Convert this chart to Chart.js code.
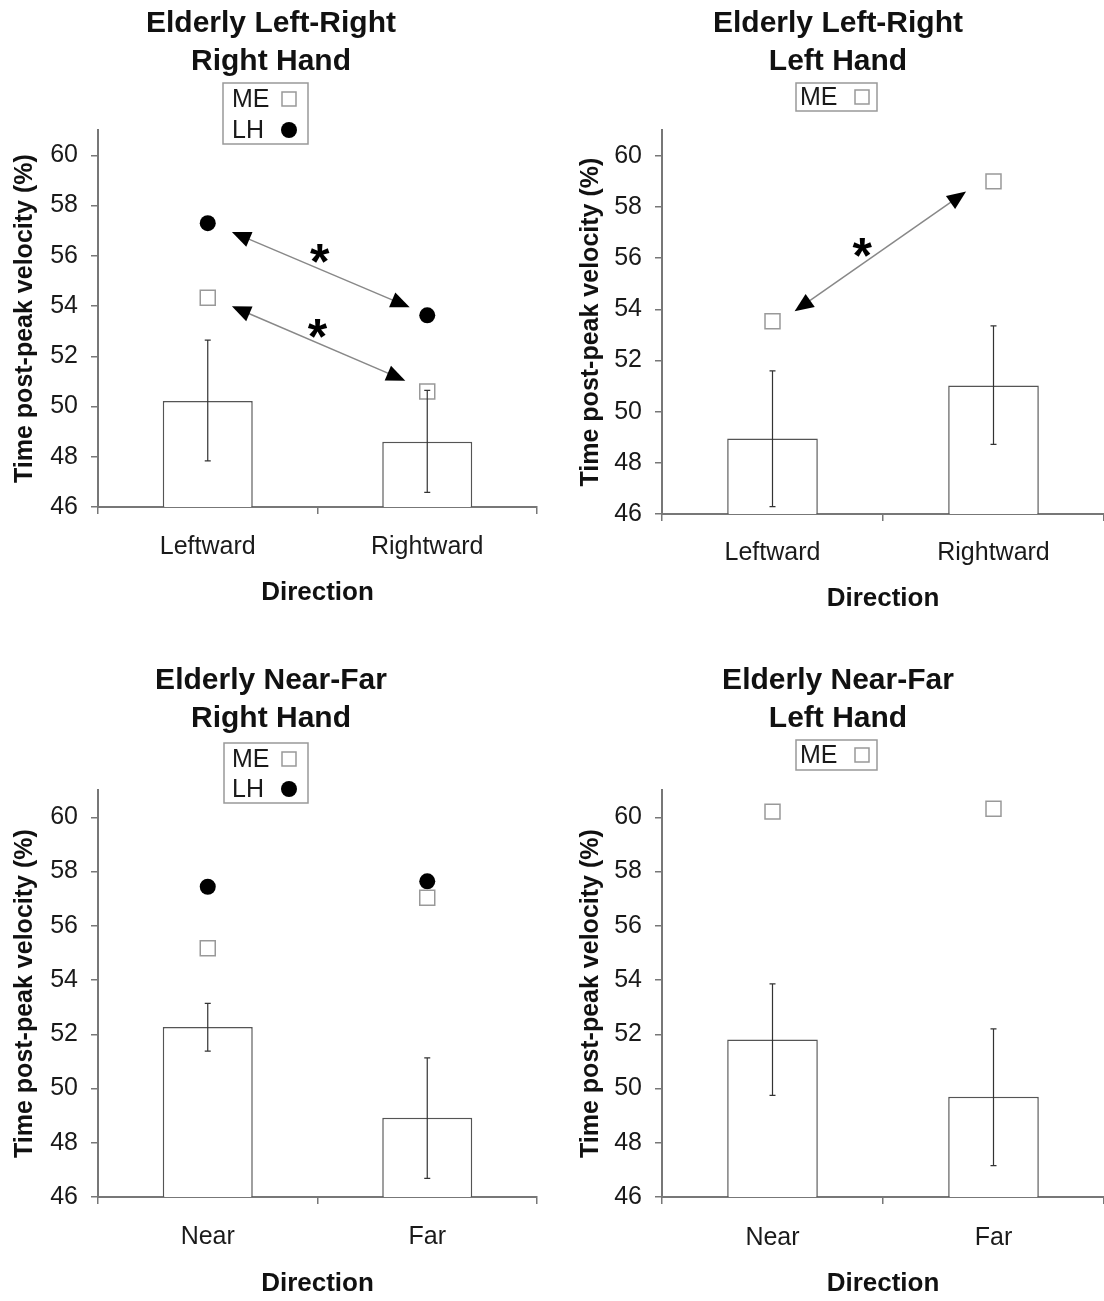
<!DOCTYPE html>
<html>
<head>
<meta charset="utf-8">
<script src="https://cdn.jsdelivr.net/npm/chart.js@4.4.1/dist/chart.umd.min.js"></script>
<style>
  html, body { margin: 0; padding: 0; background: #fff; }
  body { width: 1104px; height: 1301px; position: relative; overflow: hidden; }
  canvas { position: absolute; }
</style>
</head>
<body>
<canvas id="c1" width="552" height="608" style="left:0;top:0"></canvas>
<canvas id="c2" width="552" height="614" style="left:552px;top:0"></canvas>
<canvas id="c3" width="552" height="642" style="left:0;top:657px"></canvas>
<canvas id="c4" width="552" height="642" style="left:552px;top:657px"></canvas>
<script>
// data
const lrCategories = ['Leftward', 'Rightward'];
const nfCategories = ['Near', 'Far'];
const yTickValues = [46, 48, 50, 52, 54, 56, 58, 60];

// Elderly Left-Right, right hand
const lrRightMean = [50.22, 48.6];
const lrRightErrLow = [47.84, 46.58];
const lrRightErrHigh = [52.64, 50.64];
const lrRightME = [54.33, 50.6];
const lrRightLH = [57.3, 53.63];
// arrows: [x0, y0, x1, y1] in category index / data units
const lrRightArrows = [[0.11, 56.95, 0.92, 53.95], [0.11, 53.99, 0.9, 51.03]];
const lrRightStars = [[0.51, 56.15], [0.5, 53.15]];

// Elderly Left-Right, left hand
const lrLeftMean = [48.95, 51.02];
const lrLeftErrLow = [46.29, 48.72];
const lrLeftErrHigh = [51.59, 53.35];
const lrLeftME = [53.53, 59.0];
const lrLeftArrows = [[0.1, 53.92, 0.876, 58.6]];
const lrLeftStars = [[0.406, 56.47]];

// Elderly Near-Far, right hand
const nfRightMean = [52.27, 48.92];
const nfRightErrLow = [51.38, 46.69];
const nfRightErrHigh = [53.14, 51.13];
const nfRightME = [55.17, 57.03];
const nfRightLH = [57.44, 57.64];

// Elderly Near-Far, left hand
const nfLeftMean = [51.81, 49.7];
const nfLeftErrLow = [49.75, 47.16];
const nfLeftErrHigh = [53.86, 52.2];
const nfLeftME = [60.21, 60.32];

Chart.defaults.font.family = '"Liberation Sans", Arial, sans-serif';
Chart.defaults.color = '#1a1a1a';

const panels = [
  { canvas: 'c1', title: ['Elderly Left-Right', 'Right Hand'], labels: lrCategories,
    mean: lrRightMean, errLow: lrRightErrLow, errHigh: lrRightErrHigh, me: lrRightME, lh: lrRightLH,
    arrows: lrRightArrows, stars: lrRightStars,
    box: { padL: 5, padR: 15, yWidth: 93, yTitlePad: 5.6, titleBottom: 49.0, xHeight: 101, xTickPad: 18,
           legend: { x: 223, y: 83, w: 85, h: 61, textX: 232, markerX: 289, rows: [99, 130] } } },
  { canvas: 'c2', title: ['Elderly Left-Right', 'Left Hand'], labels: lrCategories,
    mean: lrLeftMean, errLow: lrLeftErrLow, errHigh: lrLeftErrHigh, me: lrLeftME, lh: null,
    arrows: lrLeftArrows, stars: lrLeftStars,
    box: { padL: 20, padR: 0, yWidth: 90, yTitlePad: 4.6, titleBottom: 49.0, xHeight: 100, xTickPad: 17,
           legend: { x: 244, y: 83, w: 81, h: 28, textX: 248, markerX: 310, rows: [97] } } },
  { canvas: 'c3', title: ['Elderly Near-Far', 'Right Hand'], labels: nfCategories,
    mean: nfRightMean, errLow: nfRightErrLow, errHigh: nfRightErrHigh, me: nfRightME, lh: nfRightLH,
    arrows: [], stars: [],
    box: { padL: 5, padR: 15, yWidth: 93, yTitlePad: 5.6, titleBottom: 52.0, xHeight: 102, xTickPad: 18,
           legend: { x: 224, y: 86, w: 84, h: 60, textX: 232, markerX: 289, rows: [102, 132] } } },
  { canvas: 'c4', title: ['Elderly Near-Far', 'Left Hand'], labels: nfCategories,
    mean: nfLeftMean, errLow: nfLeftErrLow, errHigh: nfLeftErrHigh, me: nfLeftME, lh: null,
    arrows: [], stars: [],
    box: { padL: 20, padR: 0, yWidth: 90, yTitlePad: 4.6, titleBottom: 52.0, xHeight: 102, xTickPad: 19,
           legend: { x: 244, y: 83, w: 81, h: 30, textX: 248, markerX: 310, rows: [98] } } }
];

const axisColor = '#777';

// error bars on top of the bars
const errorBars = {
  id: 'errorBars',
  afterDatasetsDraw(chart, args, opts) {
    const { ctx, scales: { x, y } } = chart;
    ctx.save();
    ctx.strokeStyle = '#333';
    ctx.lineWidth = 1.2;
    opts.low.forEach((lo, i) => {
      const px = x.getPixelForValue(i);
      const y0 = y.getPixelForValue(lo);
      const y1 = y.getPixelForValue(opts.high[i]);
      ctx.beginPath();
      ctx.moveTo(px, y0); ctx.lineTo(px, y1);
      ctx.moveTo(px - 3, y0); ctx.lineTo(px + 3, y0);
      ctx.moveTo(px - 3, y1); ctx.lineTo(px + 3, y1);
      ctx.stroke();
    });
    ctx.restore();
  }
};

function arrowHead(ctx, tipX, tipY, ang) {
  const len = 19, half = 8;
  ctx.beginPath();
  ctx.moveTo(tipX, tipY);
  ctx.lineTo(tipX - len * Math.cos(ang) + half * Math.sin(ang), tipY - len * Math.sin(ang) - half * Math.cos(ang));
  ctx.lineTo(tipX - len * Math.cos(ang) - half * Math.sin(ang), tipY - len * Math.sin(ang) + half * Math.cos(ang));
  ctx.closePath();
  ctx.fill();
}

// arrows, asterisks and the boxed legend
const annotations = {
  id: 'annotations',
  afterDraw(chart, args, opts) {
    const { ctx, scales: { x, y } } = chart;
    ctx.save();
    opts.arrows.forEach(a => {
      const x0 = x.getPixelForValue(a[0]), y0 = y.getPixelForValue(a[1]);
      const x1 = x.getPixelForValue(a[2]), y1 = y.getPixelForValue(a[3]);
      const ang = Math.atan2(y1 - y0, x1 - x0);
      ctx.strokeStyle = '#888';
      ctx.lineWidth = 1.5;
      ctx.beginPath();
      ctx.moveTo(x0 + 12 * Math.cos(ang), y0 + 12 * Math.sin(ang));
      ctx.lineTo(x1 - 12 * Math.cos(ang), y1 - 12 * Math.sin(ang));
      ctx.stroke();
      ctx.fillStyle = '#000';
      arrowHead(ctx, x1, y1, ang);
      arrowHead(ctx, x0, y0, ang + Math.PI);
    });
    ctx.fillStyle = '#000';
    ctx.font = 'bold 50px "Liberation Sans", Arial, sans-serif';
    ctx.textAlign = 'center';
    ctx.textBaseline = 'alphabetic';
    opts.stars.forEach(s => {
      ctx.fillText('*', x.getPixelForValue(s[0]), y.getPixelForValue(s[1]) + 27);
    });

    // legend: label first, marker after it
    const lg = opts.legend;
    ctx.strokeStyle = '#999';
    ctx.lineWidth = 1.5;
    ctx.fillStyle = '#fff';
    ctx.fillRect(lg.x, lg.y, lg.w, lg.h);
    ctx.strokeRect(lg.x, lg.y, lg.w, lg.h);
    ctx.font = '25px "Liberation Sans", Arial, sans-serif';
    ctx.textAlign = 'left';
    ctx.textBaseline = 'middle';
    const items = chart.data.datasets.filter(d => d.type === 'line');
    items.forEach((d, i) => {
      const ry = lg.rows[i];
      ctx.fillStyle = '#1a1a1a';
      ctx.fillText(d.label, lg.textX, ry + 1);
      if (d.pointStyle === 'rect') {
        ctx.fillStyle = '#fff';
        ctx.strokeStyle = '#999';
        ctx.lineWidth = 1.5;
        ctx.fillRect(lg.markerX - 7, ry - 7, 14, 14);
        ctx.strokeRect(lg.markerX - 7, ry - 7, 14, 14);
      } else {
        ctx.fillStyle = '#000';
        ctx.beginPath();
        ctx.arc(lg.markerX, ry, 8, 0, Math.PI * 2);
        ctx.fill();
      }
    });
    ctx.restore();
  }
};

function buildChart(p) {
  const b = p.box;
  const datasets = [];
  datasets.push({
    type: 'line', label: 'ME', data: p.me, showLine: false, order: 0,
    pointStyle: 'rect', pointRadius: 10.6, pointBackgroundColor: '#fff',
    pointBorderColor: '#999', pointBorderWidth: 1.5
  });
  if (p.lh) {
    datasets.push({
      type: 'line', label: 'LH', data: p.lh, showLine: false, order: 0,
      pointStyle: 'circle', pointRadius: 8, pointBackgroundColor: '#000',
      pointBorderColor: '#000', pointBorderWidth: 0
    });
  }
  datasets.push({
    type: 'bar', label: 'Mean', data: p.mean, order: 2,
    backgroundColor: '#fff', borderColor: '#555', borderWidth: 1.5,
    barPercentage: 0.41, categoryPercentage: 1
  });

  return new Chart(document.getElementById(p.canvas), {
    type: 'bar',
    data: { labels: p.labels, datasets: datasets },
    options: {
      responsive: false,
      animation: false,
      devicePixelRatio: 1,
      layout: { autoPadding: false, padding: { left: b.padL, right: b.padR, top: 0, bottom: 0 } },
      plugins: {
        legend: { display: false },
        tooltip: { enabled: false },
        title: {
          display: true,
          text: p.title,
          color: '#111',
          font: { size: 30, weight: 'bold', lineHeight: 1.27 },
          padding: { top: 5, bottom: b.titleBottom }
        },
        errorBars: { low: p.errLow, high: p.errHigh },
        annotations: { arrows: p.arrows, stars: p.stars, legend: b.legend }
      },
      scales: {
        x: {
          type: 'category',
          offset: true,
          grid: { offset: true, drawOnChartArea: false, drawTicks: true, tickLength: 7, color: axisColor, lineWidth: 1.5 },
          border: { display: true, color: axisColor, width: 2 },
          ticks: { font: { size: 25 }, color: '#1a1a1a', padding: b.xTickPad, maxRotation: 0 },
          title: { display: true, text: 'Direction', color: '#111', font: { size: 26, weight: 'bold' }, padding: 0 },
          afterFit: s => {
            s.height = b.xHeight;
            // let the axis run to the canvas edge
            s.paddingLeft = 0;
            s.paddingRight = 0;
          }
        },
        y: {
          min: 46,
          max: 61,
          grid: { drawOnChartArea: false, drawTicks: true, tickLength: 7, color: axisColor, lineWidth: 1.5 },
          border: { display: true, color: axisColor, width: 2 },
          ticks: { font: { size: 25 }, color: '#1a1a1a', padding: 13 },
          afterBuildTicks: s => { s.ticks = yTickValues.map(v => ({ value: v })); },
          title: { display: true, text: 'Time post-peak velocity (%)', color: '#111',
                   font: { size: 25, weight: 'bold' }, padding: { top: b.yTitlePad - 0.6, bottom: 0 } },
          afterFit: s => { s.width = b.yWidth; }
        }
      }
    },
    plugins: [errorBars, annotations]
  });
}

panels.forEach(buildChart);
</script>
</body>
</html>
